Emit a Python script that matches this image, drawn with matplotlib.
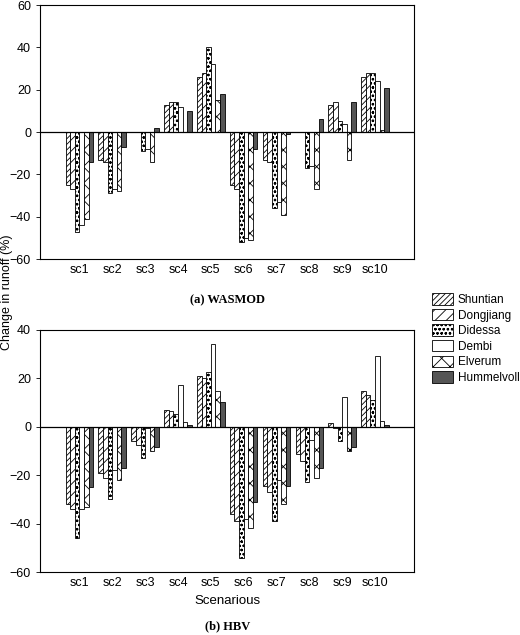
import numpy as np
import matplotlib
matplotlib.use("Agg")
import matplotlib.pyplot as plt

plt.rcParams['font.family'] = 'Liberation Sans'
plt.rcParams['hatch.linewidth'] = 0.6

# ===== data =====
scenarios = ['sc1', 'sc2', 'sc3', 'sc4', 'sc5', 'sc6', 'sc7', 'sc8', 'sc9', 'sc10']
series = ['Shuntian', 'Dongjiang', 'Didessa', 'Dembi', 'Elverum', 'Hummelvoll']

wasmod_shuntian = [-25, -13, 0, 13, 26, -25, -13, 0, 13, 26]
wasmod_dongjiang = [-27, -14, 0, 14, 28, -27, -14, 0, 14, 28]
wasmod_didessa = [-47, -29, -9, 14, 40, -52, -36, -17, 5, 28]
wasmod_dembi = [-44, -27, -8, 12, 32, -50, -33, -16, 4, 24]
wasmod_elverum = [-41, -28, -14, 0, 15, -51, -39, -27, -13, 1]
wasmod_hummel = [-14, -7, 2, 10, 18, -8, -1, 6, 14, 21]

hbv_shuntian = [-32, -19, -6, 7, 21, -36, -24.5, -11.5, 1.4, 14.5]
hbv_dongjiang = [-34, -21, -7.5, 6.5, 20, -39, -27, -14, -0.4, 13]
hbv_didessa = [-46, -30, -13, 5, 22.5, -54, -39, -23, -6, 11]
hbv_dembi = [-34, -18, -0.5, 17, 34, -38, -22, -5.5, 12, 29]
hbv_elverum = [-33, -22, -10, 2, 14.5, -42, -32, -21, -10, 2.2]
hbv_hummel = [-25, -17, -8.5, 0.6, 10, -31, -24.5, -17, -8.5, 0.5]

wasmod = [wasmod_shuntian, wasmod_dongjiang, wasmod_didessa, wasmod_dembi, wasmod_elverum, wasmod_hummel]
hbv = [hbv_shuntian, hbv_dongjiang, hbv_didessa, hbv_dembi, hbv_elverum, hbv_hummel]

# ===== styles =====
hatches = ['//////', '///', 'oooo', '', 'xx', '']
faces = ['white', 'white', 'white', 'white', 'white', '#555555']

fig = plt.figure(figsize=(5.2, 6.35), dpi=100)
ax1 = fig.add_axes([0.077, 0.592, 0.72, 0.4])
ax2 = fig.add_axes([0.077, 0.099, 0.72, 0.382])

x = np.arange(len(scenarios))
w = 0.14

def draw(ax, data, ylim, yticks):
    handles = []
    for i, vals in enumerate(data):
        b = ax.bar(x + (i - 2.5) * w, vals, w, color=faces[i], edgecolor='black',
                   hatch=hatches[i], linewidth=0.6, label=series[i])
        handles.append(b)
    ax.axhline(0, color='black', lw=0.9)
    ax.set_xlim(-1.2, 10.2)
    ax.set_ylim(*ylim)
    ax.set_yticks(yticks)
    ax.set_xticks(x)
    ax.set_xticklabels(scenarios)
    ax.tick_params(labelsize=9, length=3, width=0.6)
    ax.tick_params(axis='x', length=0)
    for s in ax.spines.values():
        s.set_linewidth(0.8)
    return handles

handles = draw(ax1, wasmod, (-60, 60), range(-60, 61, 20))
draw(ax2, hbv, (-60, 40), range(-60, 41, 20))

ax1.text(0.5, -0.14, '(a) WASMOD', transform=ax1.transAxes, ha='center', va='top',
         family='Liberation Serif', fontweight='bold', fontsize=9)
ax2.set_xlabel('Scenarious', fontsize=9.5)
ax2.text(0.5, -0.2, '(b) HBV', transform=ax2.transAxes, ha='center', va='top',
         family='Liberation Serif', fontweight='bold', fontsize=9)

fig.text(0.002, 0.54, 'Change in runoff (%)', rotation=90, va='center', ha='left', fontsize=9)

fig.legend(handles, series, loc='upper left', bbox_to_anchor=(0.81, 0.555),
           frameon=False, fontsize=8.5, handlelength=1.8, handleheight=1.1,
           labelspacing=0.25, handletextpad=0.4)

fig.savefig('out.png', dpi=100)
